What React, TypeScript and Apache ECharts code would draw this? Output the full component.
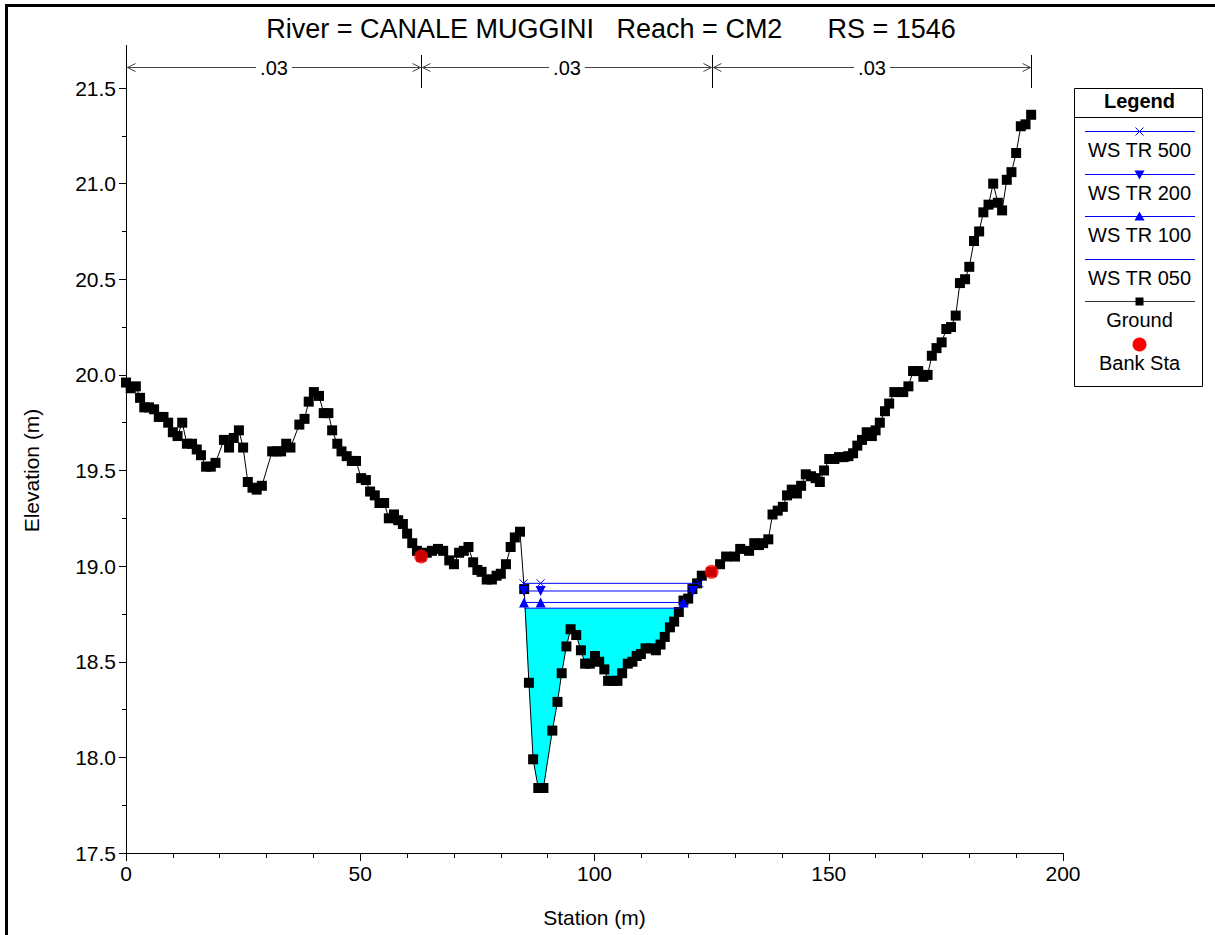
import React, { useEffect, useRef } from "react";
import * as echarts from "echarts";

const titleText = "River = CANALE MUGGINI   Reach = CM2      RS = 1546";

const stations = [
  0, 1.0, 2.1, 3.0, 3.9, 4.9, 6.0, 7.0, 8.0, 9.0, 10.0, 11.0, 12.0, 13.0, 14.1, 15.1, 16.0, 17.1, 18.1, 19.1,
  20.9, 22.0, 23.0, 24.1, 25.0, 26.0, 27.0, 27.9, 29.0, 31.2, 32.2, 33.1, 34.2, 35.1, 37.0, 38.1, 39.0, 40.1,
  41.2, 42.2, 43.2, 44.0, 45.1, 46.0, 47.1, 48.2, 49.1, 50.2, 51.2, 52.1, 53.1, 54.1, 55.1, 56.1, 57.2, 58.1,
  59.1, 60.0, 61.1, 62.1, 63.0, 64.2, 65.3, 66.6, 67.7, 69.0, 70.0, 71.1, 72.1, 73.1, 74.1, 75.0, 75.9, 77.0,
  78.1, 79.1, 80.0, 81.1, 82.1, 83.0, 84.1, 85.0, 86.0, 86.9, 88.0, 89.1, 91.0, 92.1, 93.0, 94.0, 94.9, 96.1,
  97.1, 98.0, 99.0, 100.1, 101.0, 102.1, 102.9, 104.0, 104.9, 105.9, 107.1, 108.1, 109.0, 109.9, 110.9, 112.1,
  113.1, 114.1, 115.0, 116.1, 117.0, 118.0, 119.0, 120.0, 120.9, 121.9, 122.9, 125.0, 126.8, 128.1, 130.0,
  131.1, 133.0, 134.1, 135.1, 136.0, 137.1, 138.0, 139.1, 140.2, 141.1, 142.1, 143.2, 144.1, 145.1, 146.2,
  147.2, 148.1, 149.0, 150.1, 151.2, 152.2, 153.2, 154.2, 155.2, 156.1, 157.1, 158.1, 159.2, 160.0, 160.9,
  162.0, 162.9, 164.0, 165.9, 167.0, 168.0, 169.1, 170.2, 171.1, 172.0, 173.0, 174.1, 175.1, 176.1, 177.1,
  178.0, 179.1, 180.0, 181.0, 182.1, 183.0, 184.1, 185.1, 186.1, 187.0, 188.0, 189.0, 190.0, 191.0, 192.0, 193.2,
];
const elevations = [
  19.96, 19.93, 19.94, 19.88, 19.83, 19.83, 19.82, 19.78, 19.78, 19.75, 19.70, 19.68, 19.75, 19.64, 19.64, 19.61,
  19.58, 19.52, 19.52, 19.54, 19.66, 19.62, 19.67, 19.71, 19.62, 19.44, 19.41, 19.40, 19.42, 19.60, 19.60, 19.60,
  19.64, 19.62, 19.74, 19.77, 19.86, 19.91, 19.89, 19.80, 19.80, 19.71, 19.64, 19.60, 19.575, 19.55, 19.55, 19.46,
  19.45, 19.39, 19.37, 19.33, 19.33, 19.25, 19.27, 19.24, 19.22, 19.17, 19.12, 19.08, 19.05, 19.07, 19.08, 19.09,
  19.08, 19.03, 19.01, 19.07, 19.08, 19.10, 19.02, 18.98, 18.97, 18.93, 18.93, 18.95, 18.96, 19.01, 19.10, 19.15,
  19.18, 18.88, 18.39, 17.99, 17.84, 17.84, 18.14, 18.29, 18.44, 18.58, 18.67, 18.64, 18.56, 18.49, 18.49, 18.53,
  18.50, 18.46, 18.40, 18.40, 18.40, 18.44, 18.49, 18.50, 18.53, 18.54, 18.57, 18.57, 18.56, 18.59, 18.63, 18.68,
  18.71, 18.76, 18.82, 18.83, 18.88, 18.91, 18.95, 18.97, 19.01, 19.05, 19.05, 19.09, 19.08, 19.12, 19.11, 19.12,
  19.14, 19.27, 19.29, 19.31, 19.37, 19.40, 19.38, 19.42, 19.48, 19.47, 19.46, 19.44, 19.50, 19.56, 19.56, 19.57,
  19.57, 19.575, 19.59, 19.63, 19.66, 19.70, 19.68, 19.71, 19.75, 19.81, 19.85, 19.91, 19.91, 19.94, 20.02, 20.02,
  19.99, 20.00, 20.10, 20.14, 20.17, 20.24, 20.25, 20.31, 20.48, 20.50, 20.565, 20.70, 20.75, 20.85, 20.89, 21.00,
  20.90, 20.86, 21.02, 21.06, 21.16, 21.30, 21.31, 21.36,
];

const bankStations = [63.0, 125.0];
const bankElevations = [19.05, 18.97];

const wsNames = ["WS TR 500", "WS TR 200", "WS TR 100", "WS TR 050"];
const wsElevations = [18.91, 18.87, 18.81, 18.78];
const wsLeftStations = [84.85, 84.9, 84.95, 85.05];
const wsRightStations = [122.4, 121.0, 119.0, 118.2];
const wsMidMarkStation = 88.5;

const nValues = [".03", ".03", ".03"];
const nBoundaries = [0, 63.0, 125.0, 193.2];

const FONT = '"Liberation Sans", Arial, sans-serif';
const BLUE = "#0000FF";

export default function App() {
  const ref = useRef<HTMLDivElement>(null);
  useEffect(() => {
    const chart = echarts.init(ref.current!, null, { renderer: "svg" });
    const ground = stations.map((s, i) => [s, elevations[i]]);
    const banks = bankStations.map((s, i) => [s, bankElevations[i]]);

    const wetLevel = wsElevations[3];
    const wetL = wsLeftStations[3];
    const wetR = wsRightStations[3];
    const wetPoly: number[][] = [[wetL, wetLevel]];
    ground.forEach((p) => {
      if (p[0] > wetL && p[0] < wetR) wetPoly.push(p);
    });
    wetPoly.push([wetR, wetLevel]);

    const wsSeries = wsNames.map((name, i) => {
      const pts =
        i === 3
          ? [[wsLeftStations[i], wsElevations[i]], [wsRightStations[i], wsElevations[i]]]
          : [
              [wsLeftStations[i], wsElevations[i]],
              [wsMidMarkStation, wsElevations[i]],
              [wsRightStations[i], wsElevations[i]],
            ];
      const sym =
        i === 0 ? "path://M0,0L10,10M10,0L0,10" : i === 1 || i === 2 ? "triangle" : "none";
      return {
        name,
        type: "line",
        data: pts,
        symbol: sym,
        symbolSize: i === 0 ? 8 : 10,
        symbolRotate: i === 1 ? 180 : 0,
        showSymbol: i !== 3,
        lineStyle: { color: BLUE, width: 1 },
        itemStyle:
          i === 0
            ? { color: "none", borderColor: BLUE, borderWidth: 1 }
            : { color: BLUE, borderWidth: 0 },
        z: 5,
      };
    });

    const option: any = {
      animation: false,
      backgroundColor: "#ffffff",
      textStyle: { fontFamily: FONT },
      grid: { left: 126, right: 152, top: 88, bottom: 82, containLabel: false },
      xAxis: {
        type: "value",
        min: 0,
        max: 200,
        interval: 50,
        name: "Station (m)",
        nameLocation: "middle",
        nameGap: 54,
        nameTextStyle: { fontSize: 21, color: "#000", fontFamily: FONT },
        axisLine: { show: true, onZero: false, lineStyle: { color: "#000", width: 1 } },
        axisTick: { show: true, inside: false, length: 8, lineStyle: { color: "#000" } },
        minorTick: { show: true, splitNumber: 5, length: 5, lineStyle: { color: "#000" } },
        splitLine: { show: false },
        axisLabel: { fontSize: 21, color: "#000", margin: 10, fontFamily: FONT },
      },
      yAxis: {
        type: "value",
        min: 17.5,
        max: 21.5,
        interval: 0.5,
        name: "Elevation (m)",
        nameLocation: "middle",
        nameGap: 84,
        nameRotate: 90,
        nameTextStyle: { fontSize: 21, color: "#000", fontFamily: FONT },
        axisLine: { show: true, onZero: false, lineStyle: { color: "#000", width: 1 } },
        axisTick: { show: true, inside: false, length: 7, lineStyle: { color: "#000" } },
        minorTick: { show: true, splitNumber: 2, length: 4, lineStyle: { color: "#000" } },
        splitLine: { show: false },
        axisLabel: {
          fontSize: 21,
          color: "#000",
          margin: 10,
          fontFamily: FONT,
          formatter: (v: number) => v.toFixed(1),
        },
      },
      series: [
        {
          name: "wet",
          type: "custom",
          data: wetPoly,
          z: 1,
          renderItem: (params: any, api: any) => {
            if (params.dataIndex !== 0) return null;
            const pts = wetPoly.map((p) => api.coord(p));
            return { type: "polygon", shape: { points: pts }, style: { fill: "#00FFFF", stroke: "none" } };
          },
        },
        {
          name: "Ground",
          type: "line",
          data: ground,
          symbol: "rect",
          symbolSize: 10,
          lineStyle: { color: "#000", width: 1 },
          itemStyle: { color: "#000" },
          z: 4,
        },
        ...wsSeries,
        {
          name: "Bank Sta",
          type: "scatter",
          data: banks,
          symbol: "circle",
          symbolSize: 14,
          itemStyle: { color: "#FF0000" },
          z: 6,
        },
      ],
    };
    chart.setOption(option);

    const px = (x: number, y: number) => chart.convertToPixel({ gridIndex: 0 }, [x, y]) as number[];
    const gridTop = px(0, 21.5)[1];
    const arrowY = gridTop - 21;
    const graphics: any[] = [];

    // outer frame
    graphics.push({
      type: "rect",
      shape: { x: 6.5, y: 5.5, width: 1400, height: 1100 },
      style: { fill: "none", stroke: "#000", lineWidth: 3 },
      silent: true,
    });
    // title
    graphics.push({
      type: "text",
      x: 611,
      y: 29,
      style: {
        text: titleText,
        fontSize: 27,
        fontFamily: FONT,
        fill: "#000",
        align: "center",
        verticalAlign: "middle",
      },
    });

    // Manning's n boundaries
    const bx = nBoundaries.map((s) => Math.round(px(s, 21.5)[0]) + 0.5);
    bx.forEach((x, i) => {
      graphics.push({
        type: "line",
        shape: { x1: x, y1: i === 0 ? gridTop - 43 : gridTop - 33, x2: x, y2: gridTop },
        style: { stroke: "#000", lineWidth: 1 },
      });
    });
    const ay = Math.round(arrowY) + 0.5;
    for (let i = 0; i < nValues.length; i++) {
      const xl = bx[i];
      const xr = bx[i + 1];
      graphics.push({
        type: "line",
        shape: { x1: xl, y1: ay, x2: xr, y2: ay },
        style: { stroke: "#444", lineWidth: 1 },
      });
      graphics.push({
        type: "polyline",
        shape: { points: [[xl + 9, ay - 4], [xl + 1, ay], [xl + 9, ay + 4]] },
        style: { stroke: "#444", lineWidth: 1, fill: "none" },
      });
      graphics.push({
        type: "polyline",
        shape: { points: [[xr - 9, ay - 4], [xr - 1, ay], [xr - 9, ay + 4]] },
        style: { stroke: "#444", lineWidth: 1, fill: "none" },
      });
      graphics.push({
        type: "text",
        x: (xl + xr) / 2,
        y: ay,
        style: {
          text: nValues[i],
          fontSize: 20,
          fontFamily: FONT,
          fill: "#000",
          align: "center",
          verticalAlign: "middle",
          backgroundColor: "#fff",
          padding: [0, 4],
        },
      });
    }

    // legend box
    const lgL = 1074.5, lgT = 88.5, lgW = 128, lgH = 298;
    const cx = lgL + lgW / 2 + 1;
    graphics.push({
      type: "rect",
      shape: { x: lgL, y: lgT, width: lgW, height: lgH },
      style: { fill: "#fff", stroke: "#000", lineWidth: 1 },
    });
    graphics.push({
      type: "line",
      shape: { x1: lgL, y1: 117.5, x2: lgL + lgW, y2: 117.5 },
      style: { stroke: "#000", lineWidth: 1 },
    });
    graphics.push({
      type: "text",
      x: cx,
      y: 101,
      style: { text: "Legend", fontSize: 20, fontWeight: "bold", fontFamily: FONT, fill: "#000", align: "center", verticalAlign: "middle" },
    });
    const entryNames = [...wsNames, "Ground", "Bank Sta"];
    const step = 42.5;
    entryNames.forEach((nm, i) => {
      const ly = Math.round(131 + step * i) + 0.5;
      const ty = 150 + step * i;
      if (i < 5) {
        graphics.push({
          type: "line",
          shape: { x1: 1085, y1: ly, x2: 1195, y2: ly },
          style: { stroke: i < 4 ? BLUE : "#333", lineWidth: 1 },
        });
      }
      if (i === 0) {
        graphics.push({ type: "line", shape: { x1: cx - 4, y1: ly - 4, x2: cx + 4, y2: ly + 4 }, style: { stroke: BLUE, lineWidth: 1 } });
        graphics.push({ type: "line", shape: { x1: cx - 4, y1: ly + 4, x2: cx + 4, y2: ly - 4 }, style: { stroke: BLUE, lineWidth: 1 } });
      } else if (i === 1) {
        graphics.push({ type: "polygon", shape: { points: [[cx - 5, ly - 4], [cx + 5, ly - 4], [cx, ly + 5]] }, style: { fill: BLUE } });
      } else if (i === 2) {
        graphics.push({ type: "polygon", shape: { points: [[cx - 5, ly + 4], [cx + 5, ly + 4], [cx, ly - 5]] }, style: { fill: BLUE } });
      } else if (i === 4) {
        graphics.push({ type: "rect", shape: { x: cx - 4, y: ly - 4, width: 8, height: 8 }, style: { fill: "#000" } });
      } else if (i === 5) {
        graphics.push({ type: "circle", shape: { cx: cx, cy: ly, r: 7 }, style: { fill: "#FF0000" } });
      }
      graphics.push({
        type: "text",
        x: cx,
        y: ty,
        style: { text: nm, fontSize: 20, fontFamily: FONT, fill: "#000", align: "center", verticalAlign: "middle" },
      });
    });

    chart.setOption({ graphic: graphics });
    return () => chart.dispose();
  }, []);
  return (
    <div
      ref={ref}
      style={{ position: "fixed", left: 0, top: 0, width: 1215, height: 935, background: "#fff" }}
    />
  );
}
